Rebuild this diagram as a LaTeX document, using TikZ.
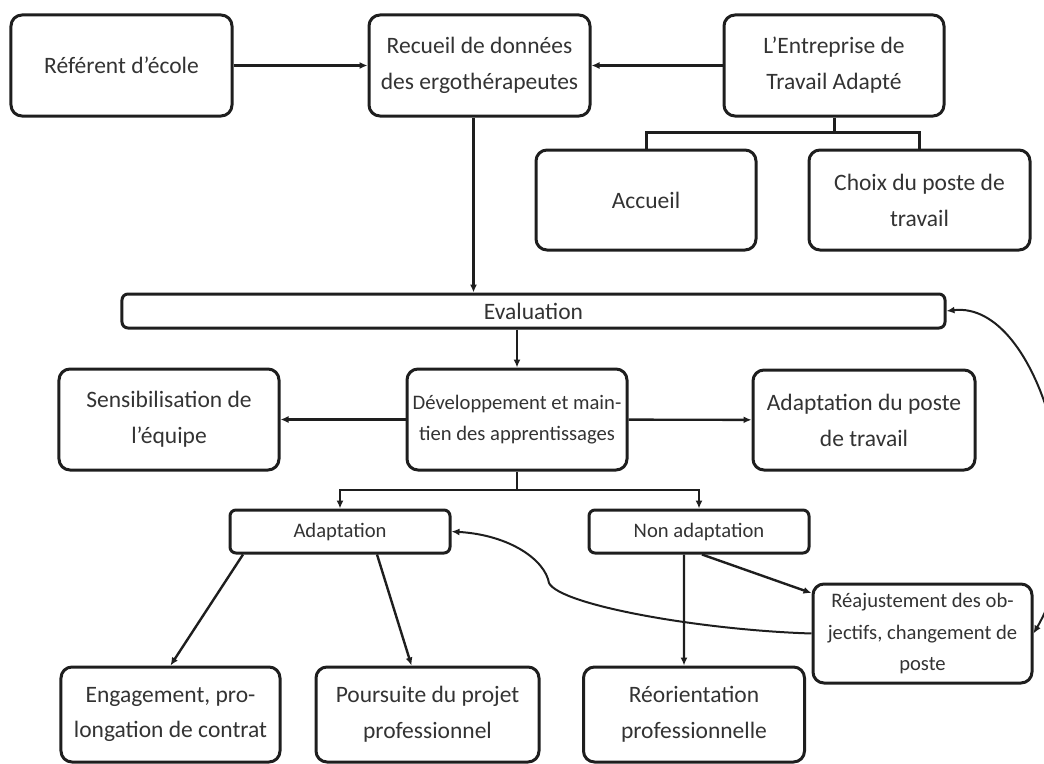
\documentclass[tikz,border=0pt]{standalone}
\usepackage{fontspec}
\setmainfont{Carlito}
\usetikzlibrary{arrows.meta}

\definecolor{inkline}{HTML}{1E1E1E}
\definecolor{inktext}{HTML}{333333}

\tikzset{
  box/.style={draw=inkline, rounded corners=11bp, line width=3bp, align=center,
    text=inktext, inner sep=0pt, font=\fontsize{23.6}{36}\selectfont},
  smallbox/.style={box, rounded corners=6bp, font=\fontsize{20.7}{31.5}\selectfont},
}

\begin{document}
\begin{tikzpicture}[x=1bp,y=-1bp,line width=2.4bp,draw=inkline,
    >={Latex[length=8bp,width=7bp]}]

        \useasboundingbox (0,0) rectangle (1044,764);

        \begin{scope}[every node/.style={box}]
          \node[minimum width=221bp,minimum height=101bp] (1)  at (121.5,65.5)  {R\'ef\'erent d'\'ecole};
          \node[minimum width=221bp,minimum height=101bp] (2)  at (479.5,65.5)  {Recueil de donn\'ees\\des ergoth\'erapeutes};
          \node[minimum width=220bp,minimum height=101bp] (3)  at (834,65.5)    {L'Entreprise de\\Travail Adapt\'e};
          \node[minimum width=220bp,minimum height=100bp] (4)  at (646,200)     {Accueil};
          \node[minimum width=221bp,minimum height=100bp] (5)  at (919.5,200)   {Choix du poste de\\travail};
          \node[minimum width=823bp,minimum height=34bp,rounded corners=6bp] (6) at (533.5,311) {Evaluation};
          \node[minimum width=220bp,minimum height=101bp] (7)  at (169,419.5)   {Sensibilisation de\\l'\'equipe};
          \node[minimum width=222bp,minimum height=100bp] (9)  at (864,420)     {Adaptation du poste\\de travail};
          \node[minimum width=219bp,minimum height=95bp]  (13) at (170.5,714.5) {Engagement, pro-\\longation de contrat};
          \node[minimum width=223bp,minimum height=95bp]  (14) at (427.5,714.5) {Poursuite du projet\\professionnel};
          \node[minimum width=221bp,minimum height=95bp]  (15) at (694,714.5)   {R\'eorientation\\professionnelle};
        \end{scope}

        \begin{scope}[every node/.style={smallbox}]
          \node[minimum width=220bp,minimum height=101bp,rounded corners=11bp] (8) at (517,419.5) {D\'eveloppement et main-\\tien des apprentissages};
          \node[minimum width=220bp,minimum height=43bp]  (10) at (340,531.5)   {Adaptation};
          \node[minimum width=220bp,minimum height=43bp]  (11) at (699,531.5)   {Non adaptation};
          \node[minimum width=219bp,minimum height=99bp,rounded corners=11bp] (12) at (922.5,633.5) {R\'eajustement des ob-\\jectifs, changement de\\poste};
        \end{scope}

        \coordinate (3a) at (834,132);
        \coordinate (8a) at (517,490);

        \begin{scope}[every edge/.style={draw,->}]
          \path (1)  edge (2);
          \path (3)  edge (2);
          \path (8)  edge (7);
          \path (8)  edge (9);
        \end{scope}

        \draw[->] ([xshift=-6bp]2.south) -- ([xshift=-6bp]2.south |- 6.north);
        \draw[->] (8.north |- 6.south) -- (8.north);

        \draw[line width=3bp] (3.south) -- (3a);
        \draw[line width=3bp] (4.north) |- (3a) -| (5.north);

        \draw (8.south) -- (8a);
        \draw[->] (8a) -| (10.north);
        \draw[->] (8a) -| (11.north);

        \draw[->] ([xshift=-97bp]10.south) -- (13.north);
        \draw[->] ([xshift=37bp]10.south) -- ([xshift=-16bp]14.north);
        \draw[->] ([xshift=-15bp]11.south) -- ([xshift=-10bp]15.north);
        \draw[->] ([xshift=3bp]11.south) -- (12.160);

        \draw[->,line width=2bp] (12.west) .. controls (700,630) and (560,605) .. (549,583)
                                  .. controls (545,560) and (510,535) .. (10.east);
        \draw[<->,line width=2bp] (6.east) .. controls (1040,300) and (1100,520) .. (12.east);

      \end{tikzpicture}
\end{document}
